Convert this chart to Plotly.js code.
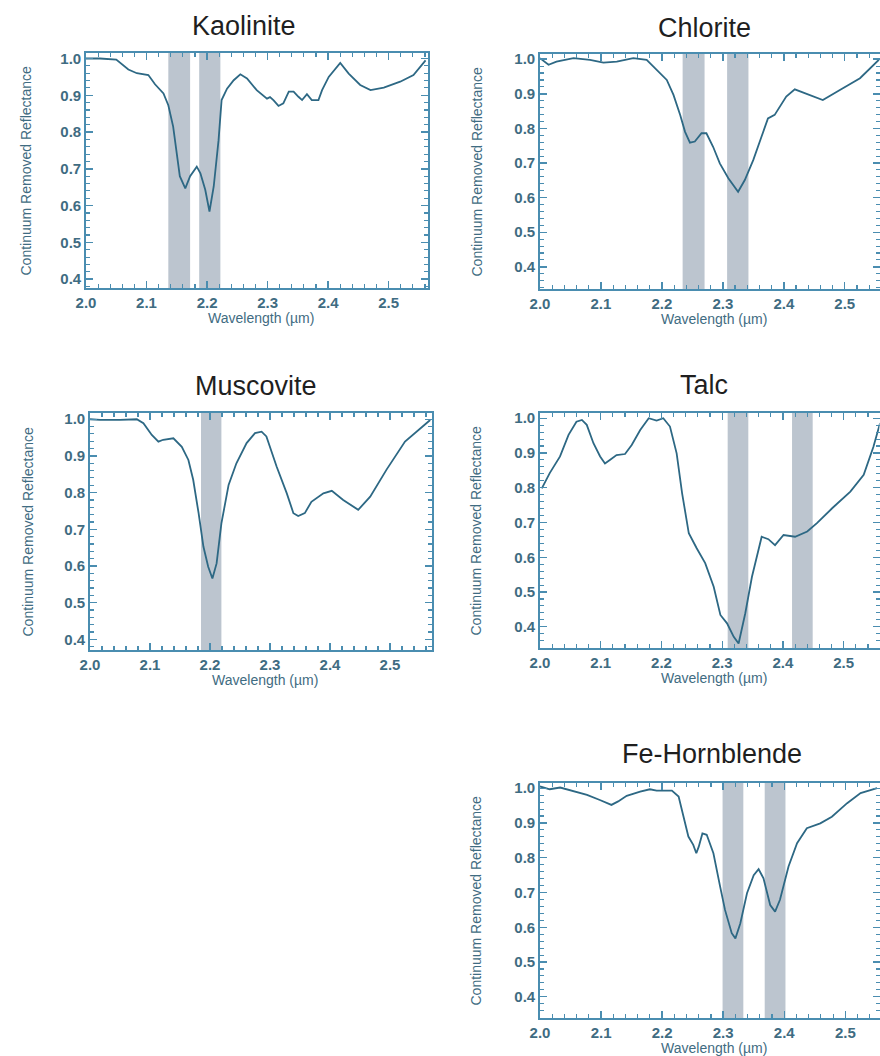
<!DOCTYPE html>
<html><head><meta charset="utf-8">
<script src="https://cdn.plot.ly/plotly-3.0.1.min.js"></script>
<style>html,body{margin:0;padding:0;background:#fff}#chart{width:880px;height:1056px}</style>
</head><body><div id="chart"></div>
<script>
// ---------- data ----------
const minerals = ["Kaolinite", "Chlorite", "Muscovite", "Talc", "Fe-Hornblende"];
const xTickVals = [2.0, 2.1, 2.2, 2.3, 2.4, 2.5];
const yTickVals = [0.4, 0.5, 0.6, 0.7, 0.8, 0.9, 1.0];
const xLabel = "Wavelength (µm)";
const yLabel = "Continuum Removed Reflectance";

const kaoliniteWl = [2.0, 2.023, 2.05, 2.07, 2.084, 2.103, 2.114, 2.128, 2.136, 2.144, 2.155, 2.164, 2.172, 2.183, 2.189, 2.197, 2.204, 2.211, 2.219, 2.224, 2.233, 2.244, 2.255, 2.266, 2.282, 2.299, 2.304, 2.31, 2.318, 2.326, 2.335, 2.343, 2.351, 2.357, 2.365, 2.373, 2.384, 2.39, 2.401, 2.42, 2.434, 2.453, 2.47, 2.492, 2.519, 2.541, 2.561];
const kaoliniteR  = [1.0, 1.0, 0.997, 0.97, 0.96, 0.955, 0.93, 0.905, 0.873, 0.815, 0.68, 0.647, 0.68, 0.706, 0.688, 0.643, 0.584, 0.652, 0.778, 0.887, 0.918, 0.941, 0.957, 0.946, 0.914, 0.891, 0.895, 0.886, 0.871, 0.878, 0.91, 0.91, 0.896, 0.887, 0.903, 0.887, 0.887, 0.914, 0.95, 0.988, 0.959, 0.928, 0.914, 0.921, 0.937, 0.955, 0.995];
const kaoliniteBands = [[2.136, 2.172], [2.187, 2.222]];

const chloriteWl = [2.0, 2.014, 2.027, 2.055, 2.082, 2.104, 2.126, 2.153, 2.175, 2.191, 2.208, 2.219, 2.23, 2.238, 2.246, 2.254, 2.265, 2.273, 2.284, 2.295, 2.309, 2.325, 2.336, 2.35, 2.363, 2.374, 2.385, 2.404, 2.418, 2.443, 2.464, 2.492, 2.525, 2.557];
const chloriteR  = [1.003, 0.984, 0.993, 1.003, 0.998, 0.99, 0.993, 1.003, 0.998, 0.969, 0.94, 0.897, 0.839, 0.79, 0.759, 0.762, 0.786, 0.786, 0.747, 0.699, 0.656, 0.617, 0.651, 0.709, 0.776, 0.829, 0.839, 0.892, 0.913, 0.897, 0.882, 0.911, 0.945, 1.0];
const chloriteBands = [[2.234, 2.27], [2.307, 2.342]];

const muscoviteWl = [2.0, 2.017, 2.05, 2.078, 2.089, 2.103, 2.114, 2.122, 2.139, 2.153, 2.164, 2.172, 2.181, 2.189, 2.197, 2.204, 2.211, 2.219, 2.231, 2.244, 2.261, 2.275, 2.286, 2.294, 2.311, 2.328, 2.339, 2.347, 2.358, 2.369, 2.389, 2.403, 2.422, 2.447, 2.467, 2.494, 2.525, 2.55, 2.567];
const muscoviteR  = [1.0, 0.998, 0.998, 1.0, 0.989, 0.957, 0.939, 0.944, 0.948, 0.925, 0.889, 0.835, 0.744, 0.653, 0.598, 0.566, 0.607, 0.716, 0.821, 0.88, 0.935, 0.962, 0.966, 0.953, 0.871, 0.798, 0.744, 0.736, 0.744, 0.775, 0.798, 0.805, 0.78, 0.753, 0.789, 0.862, 0.939, 0.975, 0.998];
const muscoviteBands = [[2.185, 2.219]];

const talcWl = [2.003, 2.016, 2.033, 2.047, 2.06, 2.069, 2.077, 2.088, 2.099, 2.107, 2.115, 2.126, 2.14, 2.151, 2.165, 2.179, 2.192, 2.203, 2.214, 2.225, 2.234, 2.245, 2.258, 2.272, 2.286, 2.297, 2.308, 2.319, 2.327, 2.338, 2.349, 2.357, 2.365, 2.376, 2.387, 2.401, 2.42, 2.44, 2.456, 2.481, 2.511, 2.533, 2.549, 2.56];
const talcR  = [0.798, 0.842, 0.89, 0.952, 0.99, 0.995, 0.981, 0.928, 0.89, 0.87, 0.88, 0.894, 0.897, 0.923, 0.966, 1.0, 0.993, 1.0, 0.976, 0.899, 0.784, 0.669, 0.626, 0.583, 0.515, 0.434, 0.41, 0.371, 0.352, 0.439, 0.544, 0.602, 0.659, 0.652, 0.635, 0.664, 0.659, 0.674, 0.698, 0.741, 0.789, 0.837, 0.918, 0.986];
const talcBands = [[2.309, 2.343], [2.415, 2.449]];

const hornblendeWl = [2.0, 2.016, 2.033, 2.049, 2.077, 2.098, 2.117, 2.128, 2.142, 2.164, 2.18, 2.191, 2.216, 2.227, 2.235, 2.243, 2.251, 2.256, 2.26, 2.266, 2.273, 2.284, 2.295, 2.303, 2.314, 2.32, 2.328, 2.339, 2.35, 2.358, 2.366, 2.377, 2.385, 2.393, 2.407, 2.421, 2.437, 2.459, 2.478, 2.503, 2.525, 2.552];
const hornblendeR  = [1.005, 0.997, 1.002, 0.995, 0.981, 0.966, 0.952, 0.962, 0.978, 0.99, 0.997, 0.993, 0.993, 0.976, 0.918, 0.861, 0.837, 0.813, 0.832, 0.87, 0.866, 0.813, 0.717, 0.65, 0.583, 0.568, 0.611, 0.698, 0.75, 0.767, 0.741, 0.664, 0.645, 0.679, 0.775, 0.842, 0.885, 0.899, 0.918, 0.957, 0.986, 1.0];
const hornblendeBands = [[2.299, 2.333], [2.368, 2.402]];

const wlSeries = [kaoliniteWl, chloriteWl, muscoviteWl, talcWl, hornblendeWl];
const rSeries = [kaoliniteR, chloriteR, muscoviteR, talcR, hornblendeR];
const bandSeries = [kaoliniteBands, chloriteBands, muscoviteBands, talcBands, hornblendeBands];

// ---------- layout geometry (pixels) ----------
const W = 880, H = 1056;
const boxes = [
  {l: 86, r: 428, t: 53, b: 288, xmax: 2.565, ymin: 0.376, ymax: 1.015, tx: 244, ty: 26, ax: 25},
  {l: 540, r: 879.5, t: 54, b: 289, xmax: 2.557, ymin: 0.336, ymax: 1.015, tx: 704, ty: 28, ax: 477},
  {l: 90, r: 432, t: 413, b: 650, xmax: 2.57, ymin: 0.371, ymax: 1.017, tx: 256, ty: 386, ax: 27},
  {l: 540, r: 879.5, t: 413, b: 648, xmax: 2.559, ymin: 0.339, ymax: 1.015, tx: 704, ty: 385, ax: 475},
  {l: 540, r: 879.5, t: 783, b: 1018, xmax: 2.556, ymin: 0.339, ymax: 1.015, tx: 712, ty: 754, ax: 475}
];

const axisColor = '#4a8db0';
const lineColor = '#2d6884';
const labelColor = '#3f6c82';
const bandColor = '#bcc5cf';
const font = 'Liberation Sans, Arial, sans-serif';

const traces = [];
const shapes = [];
const annotations = [];
const layout = {
  width: W, height: H,
  margin: {l: 0, r: 0, t: 0, b: 0},
  paper_bgcolor: '#ffffff', plot_bgcolor: '#ffffff',
  showlegend: false,
  font: {family: font, color: labelColor}
};

boxes.forEach((bx, i) => {
  const n = i + 1;
  const sx = n === 1 ? '' : String(n);
  traces.push({
    type: 'scatter', mode: 'lines', name: minerals[i],
    x: wlSeries[i], y: rSeries[i],
    xaxis: 'x' + sx, yaxis: 'y' + sx,
    line: {color: lineColor, width: 1.8},
    hoverinfo: 'x+y'
  });
  const common = {
    ticks: 'inside', ticklen: 7, tickwidth: 1.4, tickcolor: axisColor,
    showline: true, linecolor: axisColor, linewidth: 1.8, mirror: 'allticks',
    showgrid: false, zeroline: false, tickformat: '.1f',
    tickfont: {family: font, size: 15, color: labelColor, weight: 'bold'},
    minor: {dtick: 0.02, ticks: 'inside', ticklen: 4, tickwidth: 1.1, tickcolor: axisColor, showgrid: false}
  };
  layout['xaxis' + sx] = Object.assign({}, common, {
    domain: [bx.l / W, bx.r / W], range: [2.0, bx.xmax],
    anchor: 'y' + sx, tickvals: xTickVals,
    minor: Object.assign({}, common.minor, {tick0: 2.0})
  });
  layout['yaxis' + sx] = Object.assign({}, common, {
    domain: [1 - bx.b / H, 1 - bx.t / H], range: [bx.ymin, bx.ymax],
    anchor: 'x' + sx, tickvals: yTickVals,
    minor: Object.assign({}, common.minor, {tick0: 0.0})
  });
  bandSeries[i].forEach(bd => {
    shapes.push({
      type: 'rect', xref: 'x' + sx, yref: 'y' + sx + ' domain',
      x0: bd[0], x1: bd[1], y0: 0, y1: 1,
      fillcolor: bandColor, line: {width: 0}, layer: 'below'
    });
  });
  annotations.push({
    text: minerals[i], xref: 'paper', yref: 'paper',
    x: bx.tx / W, y: 1 - bx.ty / H, xanchor: 'center', yanchor: 'middle',
    showarrow: false, font: {family: font, size: 27, color: '#1f1f1f'}
  });
  annotations.push({
    text: xLabel, xref: 'paper', yref: 'paper',
    x: (bx.l + bx.r) / 2 / W + 4 / W, y: 1 - (bx.b + 30) / H, xanchor: 'center', yanchor: 'middle',
    showarrow: false, font: {family: font, size: 14, color: labelColor}
  });
  annotations.push({
    text: yLabel, xref: 'paper', yref: 'paper', textangle: -90,
    x: bx.ax / W, y: 1 - (bx.t + bx.b) / 2 / H, xanchor: 'center', yanchor: 'middle',
    showarrow: false, font: {family: font, size: 14, color: labelColor}
  });
});
layout.shapes = shapes;
layout.annotations = annotations;

Plotly.newPlot('chart', traces, layout, {staticPlot: true, displayModeBar: false});
</script></body></html>
